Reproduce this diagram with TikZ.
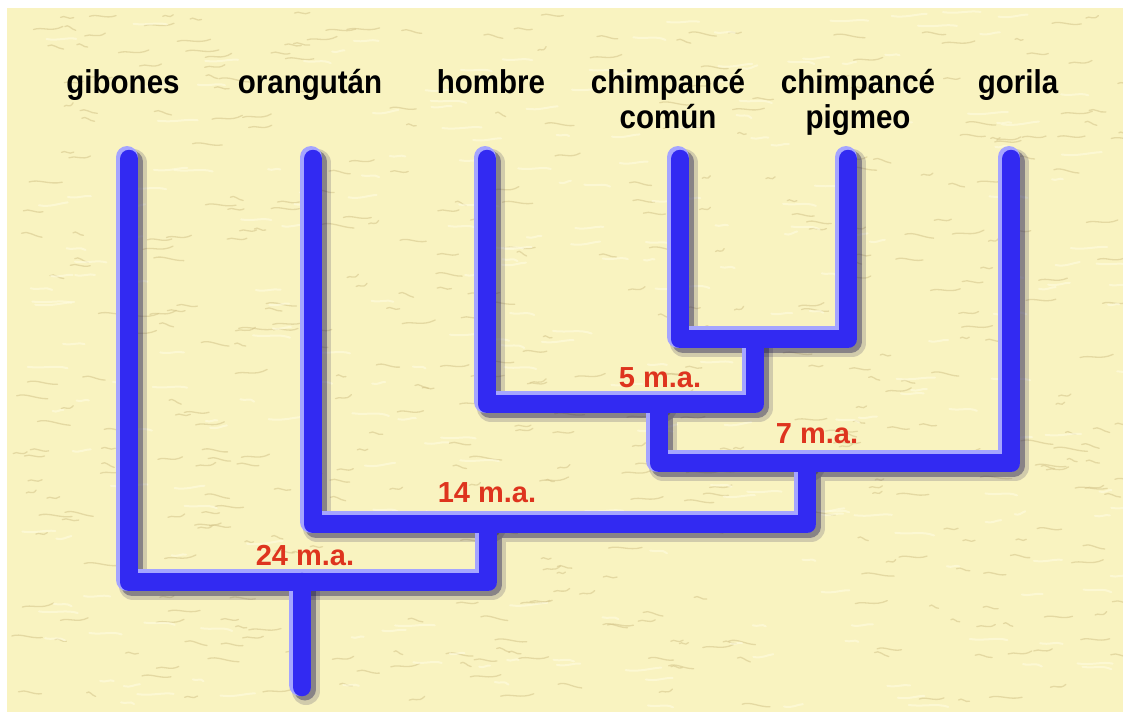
\documentclass[tikz,border=0pt]{standalone}
\usepackage{fontspec}
\setmainfont{Liberation Sans}
\definecolor{paper}{RGB}{249,243,192}
\definecolor{fleck}{RGB}{212,196,138}
\definecolor{fleckpale}{RGB}{255,252,225}
\definecolor{branch}{RGB}{50,42,242}
\definecolor{branchglow}{RGB}{165,165,255}
\definecolor{branchshade}{RGB}{28,24,80}
\definecolor{agecol}{RGB}{222,52,30}
\newcommand{\tall}[1]{\scalebox{1}[1.12]{#1}}
\begin{document}
\begin{tikzpicture}[x=1pt,y=-1pt,
  species/.style={font=\bfseries\fontsize{29.5}{35}\selectfont, text=black,
    align=center, inner sep=0pt, anchor=base},
  age/.style={font=\bfseries\fontsize{29}{32}\selectfont, text=agecol,
    inner sep=0pt, anchor=base},
  limb/.style={line cap=round, line join=round},
  limbhaze/.style={limb, draw=branchshade, line width=28pt, opacity=0.18,
    transform canvas={xshift=5pt,yshift=-5pt}},
  limbshade/.style={limb, draw=branchshade, line width=22pt, opacity=0.4,
    transform canvas={xshift=3.5pt,yshift=-3.5pt}},
  limbglow/.style={limb, draw=branchglow, line width=22pt,
    transform canvas={xshift=-1pt,yshift=1pt}},
  limbcore/.style={limb, draw=branch, line width=18.5pt,
    transform canvas={xshift=1pt,yshift=-1pt}},
  grain/.style={draw=fleck, line width=1.3pt, opacity=0.55, line cap=round},
  grainpale/.style={draw=fleckpale, line width=2pt, opacity=0.6, line cap=round}
]
% page and paper
\useasboundingbox (0,0) rectangle (1123,717);
\fill[white] (0,0) rectangle (1130,720);
\fill[paper] (7,8) rectangle (1130,712);

% paper grain
\begin{scope}
\clip (7,8) rectangle (1130,712);
\pgfmathsetseed{4242}
\foreach \k in {1,...,460}{
  \pgfmathsetmacro{\fx}{10+rnd*1110}
  \pgfmathsetmacro{\fy}{12+rnd*696}
  \pgfmathsetmacro{\fl}{8+rnd*26}
  \pgfmathsetmacro{\fd}{-4+rnd*8}
  \draw[grain] (\fx,\fy) .. controls (\fx+\fl*0.3,\fy-3) and (\fx+\fl*0.6,\fy+3) .. (\fx+\fl,\fy+\fd);
}
\foreach \k in {1,...,260}{
  \pgfmathsetmacro{\fx}{10+rnd*1110}
  \pgfmathsetmacro{\fy}{12+rnd*696}
  \pgfmathsetmacro{\fl}{10+rnd*30}
  \pgfmathsetmacro{\fd}{-3+rnd*6}
  \draw[grainpale] (\fx,\fy) .. controls (\fx+\fl*0.4,\fy+2) and (\fx+\fl*0.7,\fy-2) .. (\fx+\fl,\fy+\fd);
}
\end{scope}

% tips of the tree
\coordinate (gibT) at (128,158);
\coordinate (oraT) at (312,158);
\coordinate (homT) at (486,158);
\coordinate (ccT)  at (679,158);
\coordinate (cpT)  at (847,158);
\coordinate (gorT) at (1010,158);
% branching points
\coordinate (nChimp) at (754,338);
\coordinate (nHomo)  at (658,403);
\coordinate (nGor)   at (806,462);
\coordinate (nOra)   at (487,523);
\coordinate (nGib)   at (301,581);
\coordinate (root)   at (301,686);

\newcommand{\treelimbs}[1]{%
  \draw[#1] (gibT) |- (nGib) -| (nOra) -| (nGor) -| (gorT);
  \draw[#1] (oraT) |- (nOra);
  \draw[#1] (nGor) -| (nHomo) -| (nChimp) -| (ccT);
  \draw[#1] (homT) |- (nHomo);
  \draw[#1] (nChimp) -| (cpT);
  \draw[#1] (nGib) -- (root);
}
\treelimbs{limbhaze}
\treelimbs{limbshade}
\treelimbs{limbglow}
\treelimbs{limbcore}

% species names
\node[species] (gib) at (123,93) {\tall{gibones}};
\node[species] (ora) at (310,93) {\tall{orangután}};
\node[species] (hom) at (491,93) {\tall{hombre}};
\node[species] (cc)  at (668,128) {\tall{chimpancé}\\\tall{común}};
\node[species] (cp)  at (858,128) {\tall{chimpancé}\\\tall{pigmeo}};
\node[species] (gor) at (1018,93) {\tall{gorila}};

% divergence ages
\node[age] (a5)  at (660,387) {5 m.a.};
\node[age] (a7)  at (817,443) {7 m.a.};
\node[age] (a14) at (487,502) {14 m.a.};
\node[age] (a24) at (305,565) {24 m.a.};
\end{tikzpicture}
\end{document}
